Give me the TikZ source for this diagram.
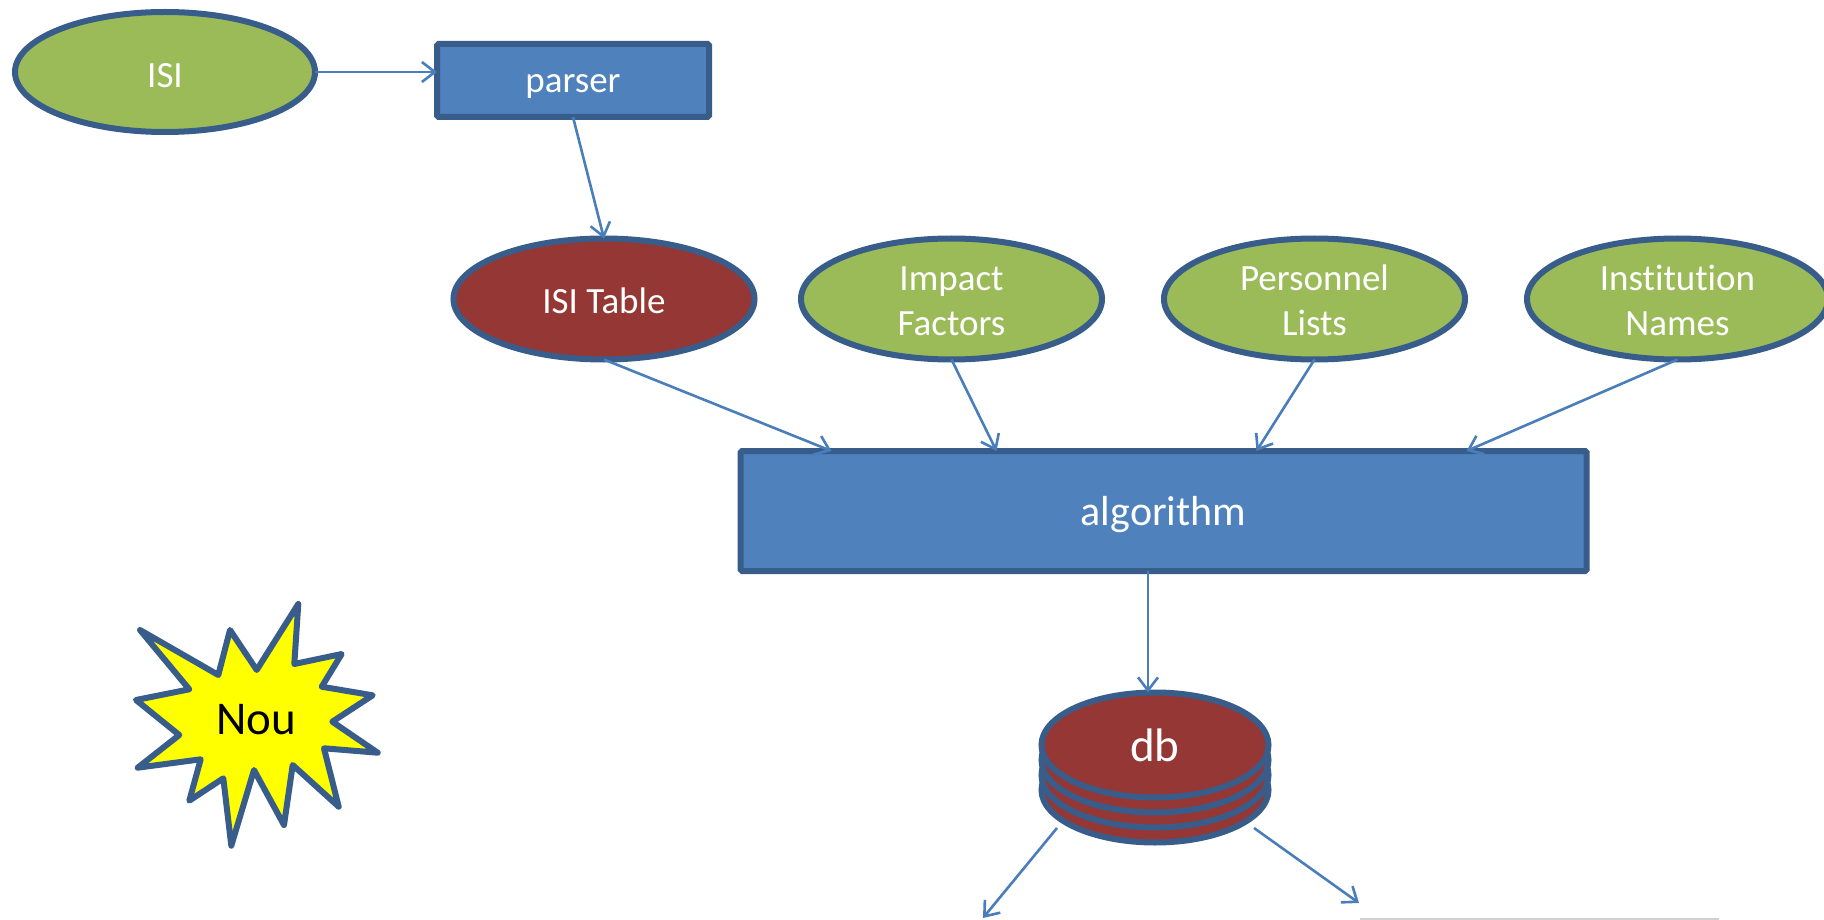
\documentclass[tikz,border=0pt]{standalone}
\usepackage{fontspec}
\setmainfont[Ligatures=NoCommon]{Carlito}
\usetikzlibrary{arrows.meta,shapes.geometric,calc}
\definecolor{edgeblue}{HTML}{385D8A}
\definecolor{linkblue}{HTML}{4A7EBB}
\definecolor{boxblue}{HTML}{4F81BD}
\definecolor{leaf}{HTML}{9BBB59}
\definecolor{brick}{HTML}{953735}
\definecolor{burst}{HTML}{FFFF00}
\newcommand{\lowered}[2]{\raisebox{-#1pt}[0pt][0pt]{#2}}
\newcommand{\topline}{\rule{0pt}{29pt}}
\tikzset{
  base/.style={draw=edgeblue,line width=6pt,text=white,align=center,inner sep=0pt,outer sep=0pt,font=\fontsize{37}{45}\selectfont},
  oval/.style={base,ellipse,minimum width=301pt,minimum height=121pt},
  source/.style={oval,fill=leaf},
  table/.style={oval,fill=brick},
  box/.style={base,rectangle,fill=boxblue,rounded corners=1.5pt},
  disk/.style={base,ellipse,fill=brick,minimum width=227pt,minimum height=105pt},
  link/.style={draw=linkblue,line width=2.6pt,-{Straight Barb[length=13pt,width=20pt,line width=2.6pt]}},
}
\begin{document}
\begin{tikzpicture}[x=1pt,y=-1pt]
\useasboundingbox (0,0) rectangle (1824,920);
\fill[white] (0,0) rectangle (1824,920);
\draw[black!18,line width=1.5pt] (1360,919) -- (1719,919);
\node[source,minimum width=300pt,minimum height=120pt] (isi) at (165,72) {\lowered{15.5}{ISI}};
\node[box,minimum width=272pt,minimum height=73pt] (parser) at (573,80.5) {\lowered{12.5}{parser}};
\node[table] (isitable) at (604,299) {\lowered{14.5}{ISI Table}};
\node[source] (impact) at (951.5,299) {\topline Impact\\Factors};
\node[source] (personnel) at (1314.5,299) {\topline Personnel\\Lists};
\node[source] (institution) at (1677.5,299) {\topline Institution\\Names};
\node[box,minimum width=846pt,minimum height=120pt,font=\fontsize{42}{50}\selectfont] (algo) at (1163.5,511) {\lowered{14}{algorithm}};
\node[disk] (db4) at (1155,790) {};
\node[disk] (db3) at (1155,775) {};
\node[disk] (db2) at (1155,760) {};
\node[disk,font=\fontsize{47}{50}\selectfont] (db) at (1155,745) {db};
\draw[edgeblue,line width=6pt,line join=round,fill=burst]
  (140,630)--(218.3,675)--(230,630)--(256.7,670)--(298.3,604)--(294.3,664)--(341.7,654)--(321.7,686.7)
  --(372.7,695.3)--(332.3,721.7)--(377.7,752.7)--(324,748.3)--(338.7,806.7)--(292.7,765)--(284,825)
  --(254,770)--(231.3,845.7)--(223.3,778.3)--(189.3,800.7)--(200.7,759.3)--(137.7,767.7)--(179.3,735)
  --(136,700)--(189.3,689.3)--cycle;
\node[font=\fontsize{47}{50}\selectfont,text=black,inner sep=0pt] (nou) at (256,720) {Nou};
\coordinate (in1) at ($(algo.north west)+(91,0)$);
\coordinate (in2) at ($(algo.north west)+(256,0)$);
\coordinate (in3) at ($(algo.north west)+(516,0)$);
\coordinate (in4) at ($(algo.north west)+(726,0)$);
\coordinate (out) at ($(algo.south)+(-15.5,0)$);
\coordinate (dbl) at ($(db4.center)+(-98,38)$);
\coordinate (dbr) at ($(db4.center)+(99,38)$);
\coordinate (endl) at (983,918);
\coordinate (endr) at (1359,903);
\draw[link] (isi.east) -- (parser.west |- isi.east);
\draw[link] (parser.south) -- (isitable.north);
\draw[link] (isitable.south) -- (in1);
\draw[link] (impact.south) -- (in2);
\draw[link] (personnel.south) -- (in3);
\draw[link] (institution.south) -- (in4);
\draw[link] (out) -- (out |- db.north);
\draw[link] (dbl) -- (endl);
\draw[link] (dbr) -- (endr);
\end{tikzpicture}
\end{document}
